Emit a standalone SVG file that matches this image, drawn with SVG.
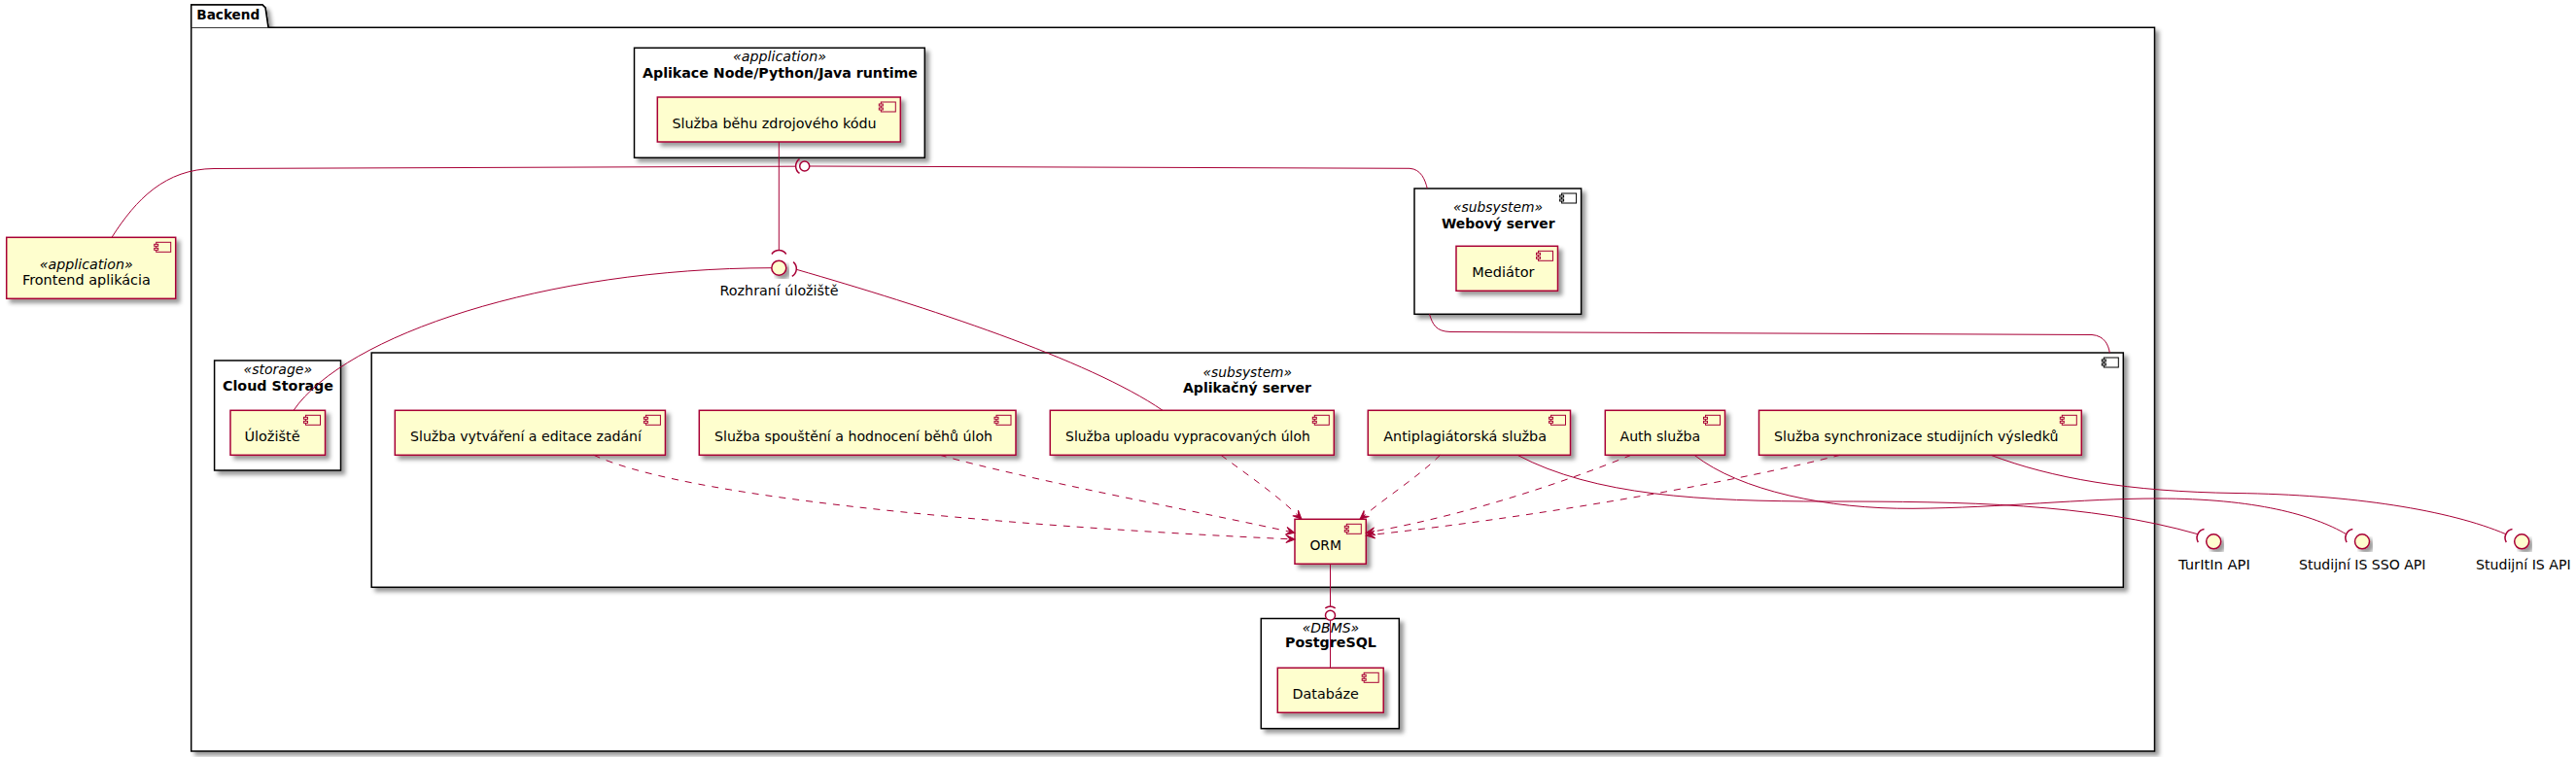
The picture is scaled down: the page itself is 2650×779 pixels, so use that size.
<svg xmlns="http://www.w3.org/2000/svg" width="2650" height="779" viewBox="0 0 2650 779">
<style>
text{font-family:"DejaVu Sans","Liberation Sans",sans-serif;font-size:14px;fill:#000}
.b{font-weight:bold}
.i{font-style:italic}
.m{text-anchor:middle}
.cmp{fill:#FEFECE;stroke:#A80036;stroke-width:1.5}
.cont{fill:#FFFFFF;stroke:#000;stroke-width:1.5}
.ico{fill:#FEFECE;stroke:#A80036;stroke-width:1}
.icok{fill:#FFFFFF;stroke:#000;stroke-width:1}
.ln{fill:none;stroke:#A80036;stroke-width:1}
.ds{fill:none;stroke:#A80036;stroke-width:1;stroke-dasharray:7,7}
.ifc{fill:#FEFECE;stroke:#A80036;stroke-width:1.5}
.lol{fill:#FFFFFF;stroke:#A80036;stroke-width:1.5}
.sk{fill:none;stroke:#A80036;stroke-width:1.5}
</style>
<defs>
<filter id="sh" x="-0.1" y="-0.1" width="1.3" height="1.3">
<feGaussianBlur in="SourceAlpha" stdDeviation="2" result="b"/>
<feColorMatrix in="b" type="matrix" values="0 0 0 0 0 0 0 0 0 0 0 0 0 0 0 0 0 0 0.4 0" result="c"/>
<feOffset in="c" dx="4" dy="4" result="o"/>
<feBlend in="SourceGraphic" in2="o" mode="normal"/>
</filter>
<marker id="ah" markerUnits="userSpaceOnUse" viewBox="-10 -5 11 10" markerWidth="11" markerHeight="10" refX="0" refY="0" orient="auto">
<path d="M0,0 L-9,-4 L-5,0 L-9,4 Z" fill="#A80036" stroke="#A80036" stroke-width="1"/>
</marker>
<g id="ci">
<rect x="-20" y="5" width="15" height="10"/>
<rect x="-22" y="7" width="4" height="2"/>
<rect x="-22" y="11" width="4" height="2"/>
</g>
</defs>
<rect width="2650" height="779" fill="#FFFFFF"/>

<g id="backend">
<path d="M196.7,28.3 V5 H270 L273,8 L276,28.3 Z" fill="#FFFFFF" stroke="#000" stroke-width="1.5" filter="url(#sh)"/>
<rect x="196.7" y="28.3" width="2019.8" height="744.7" fill="#FFFFFF" stroke="#000" stroke-width="1.5" filter="url(#sh)"/>
<path d="M196.7,28.3 V5 H270 L273,8 L276,28.3" fill="#FFFFFF" stroke="#000" stroke-width="1.5"/>
<text class="b" x="202.3" y="20" textLength="65" lengthAdjust="spacingAndGlyphs">Backend</text>
</g>

<g id="frontend">
<rect class="cmp" x="6.7" y="244.3" width="174" height="63" filter="url(#sh)"/>
<use href="#ci" class="ico" x="180.7" y="244.3"/>
<text class="i m" x="88.7" y="276.7" textLength="96" lengthAdjust="spacingAndGlyphs">«application»</text>
<text class="m" x="88.9" y="293.3" textLength="132" lengthAdjust="spacingAndGlyphs">Frontend aplikácia</text>
</g>

<g id="runtime">
<rect class="cont" x="652.5" y="49.3" width="298.8" height="113" filter="url(#sh)"/>
<text class="i m" x="802" y="63.3" textLength="96" lengthAdjust="spacingAndGlyphs">«application»</text>
<text class="b m" x="802.5" y="80" textLength="283" lengthAdjust="spacingAndGlyphs">Aplikace Node/Python/Java runtime</text>
</g>
<g id="sluzba-behu">
<rect class="cmp" x="676.3" y="100" width="250" height="46" filter="url(#sh)"/>
<use href="#ci" class="ico" x="926.3" y="100"/>
<text class="m" x="796.5" y="132" textLength="210" lengthAdjust="spacingAndGlyphs">Služba běhu zdrojového kódu</text>
</g>

<g id="webovy-server">
<rect class="cont" x="1455" y="194" width="171.6" height="129.3" filter="url(#sh)"/>
<use href="#ci" class="icok" x="1626.6" y="194"/>
<text class="i m" x="1541" y="218.3" textLength="92" lengthAdjust="spacingAndGlyphs">«subsystem»</text>
<text class="b m" x="1541.3" y="235" textLength="116.6" lengthAdjust="spacingAndGlyphs">Webový server</text>
</g>
<g id="mediator">
<rect class="cmp" x="1498" y="253.3" width="104.5" height="46" filter="url(#sh)"/>
<use href="#ci" class="ico" x="1602.5" y="253.3"/>
<text class="m" x="1546.4" y="285.3" textLength="64.2" lengthAdjust="spacingAndGlyphs">Mediátor</text>
</g>

<g id="cloud-storage">
<rect class="cont" x="220.6" y="371" width="129.9" height="113" filter="url(#sh)"/>
<text class="i m" x="285.8" y="385" textLength="70.5" lengthAdjust="spacingAndGlyphs">«storage»</text>
<text class="b m" x="286" y="401.7" textLength="114" lengthAdjust="spacingAndGlyphs">Cloud Storage</text>
</g>
<g id="uloziste">
<rect class="cmp" x="237" y="422.3" width="97.5" height="46" filter="url(#sh)"/>
<use href="#ci" class="ico" x="334.5" y="422.3"/>
<text class="m" x="280" y="454.3" textLength="57.2" lengthAdjust="spacingAndGlyphs">Úložiště</text>
</g>

<g id="aplikacny-server">
<rect class="cont" x="382.2" y="363" width="1802.1" height="241.3" filter="url(#sh)"/>
<use href="#ci" class="icok" x="2184.3" y="363"/>
<text class="i m" x="1283.3" y="388.3" textLength="91.5" lengthAdjust="spacingAndGlyphs">«subsystem»</text>
<text class="b m" x="1283" y="404" textLength="132" lengthAdjust="spacingAndGlyphs">Aplikačný server</text>
</g>
<g id="vytvareni">
<rect class="cmp" x="406.3" y="422.3" width="278.1" height="46" filter="url(#sh)"/>
<use href="#ci" class="ico" x="684.4" y="422.3"/>
<text class="m" x="541" y="454.3" textLength="237.9" lengthAdjust="spacingAndGlyphs">Služba vytváření a editace zadání</text>
</g>
<g id="spousteni">
<rect class="cmp" x="719.3" y="422.3" width="325.7" height="46" filter="url(#sh)"/>
<use href="#ci" class="ico" x="1045" y="422.3"/>
<text class="m" x="878" y="454.3" textLength="286" lengthAdjust="spacingAndGlyphs">Služba spouštění a hodnocení běhů úloh</text>
</g>
<g id="upload">
<rect class="cmp" x="1080.3" y="422.3" width="292" height="46" filter="url(#sh)"/>
<use href="#ci" class="ico" x="1372.3" y="422.3"/>
<text class="m" x="1221.9" y="454.3" textLength="251.7" lengthAdjust="spacingAndGlyphs">Služba uploadu vypracovaných úloh</text>
</g>
<g id="antiplag">
<rect class="cmp" x="1407.3" y="422.3" width="208.2" height="46" filter="url(#sh)"/>
<use href="#ci" class="ico" x="1615.5" y="422.3"/>
<text class="m" x="1507.1" y="454.3" textLength="167.8" lengthAdjust="spacingAndGlyphs">Antiplagiátorská služba</text>
</g>
<g id="auth">
<rect class="cmp" x="1651.3" y="422.3" width="123.2" height="46" filter="url(#sh)"/>
<use href="#ci" class="ico" x="1774.5" y="422.3"/>
<text class="m" x="1707.8" y="454.3" textLength="82.6" lengthAdjust="spacingAndGlyphs">Auth služba</text>
</g>
<g id="sync">
<rect class="cmp" x="1809.5" y="422.3" width="331.8" height="46" filter="url(#sh)"/>
<use href="#ci" class="ico" x="2141.3" y="422.3"/>
<text class="m" x="1971.2" y="454.3" textLength="292.4" lengthAdjust="spacingAndGlyphs">Služba synchronizace studijních výsledků</text>
</g>
<g id="orm">
<rect class="cmp" x="1332" y="534.3" width="73.3" height="46" filter="url(#sh)"/>
<use href="#ci" class="ico" x="1405.3" y="534.3"/>
<text class="m" x="1363.7" y="566.3" textLength="32.6" lengthAdjust="spacingAndGlyphs">ORM</text>
</g>

<g id="postgresql">
<rect class="cont" x="1297.3" y="636.5" width="142" height="113.2" filter="url(#sh)"/>
<text class="i m" x="1369" y="650.7" textLength="58.5" lengthAdjust="spacingAndGlyphs">«DBMS»</text>
<text class="b m" x="1369" y="666.3" textLength="93.8" lengthAdjust="spacingAndGlyphs">PostgreSQL</text>
</g>
<g id="databaze">
<rect class="cmp" x="1314.3" y="687.3" width="108.9" height="46" filter="url(#sh)"/>
<use href="#ci" class="ico" x="1423.2" y="687.3"/>
<text class="m" x="1363.7" y="719.3" textLength="68.3" lengthAdjust="spacingAndGlyphs">Databáze</text>
</g>

<g id="connectors">
<path class="ln" d="M115,244.3 C140,205 170,174 220,173.5 L818.3,171.2"/>
<path class="ln" d="M832.7,171 L1450,173.3 C1462,174 1466,185 1468.3,194"/>
<path class="ln" d="M1470.5,323.3 C1474,334 1477,341 1492,341.5 L2152,344.5 C2165,345.5 2169,355 2170.3,363"/>
<path class="ln" d="M801.3,146 L801.3,257.7"/>
<path class="ln" d="M302,422.3 C355,345 560,276 793.8,275.7"/>
<path class="ln" d="M819.3,277.3 C950,315 1120,370 1196,422.3"/>
<path class="ln" d="M1368.5,580.3 L1368.5,624.3"/>
<path class="ln" d="M1368.5,638.3 L1368.5,687.3"/>
<path class="ln" d="M1561,468.3 C1640,510 1750,516 1880,516 C2020,516 2150,518 2260.9,549.7"/>
<path class="ln" d="M1743,468.3 C1790,505 1880,524 1968,523.3 C2060,522.5 2140,513 2220,513 C2320,513 2380,530 2413.7,549.7"/>
<path class="ln" d="M2048,468.3 C2110,492 2190,506 2300,507.5 C2420,509 2520,525 2577.9,549.7"/>
<path class="ds" marker-end="url(#ah)" d="M610.8,468.3 C700,510 1000,540 1332,555"/>
<path class="ds" marker-end="url(#ah)" d="M967,468.3 C1050,492 1240,528 1332,548.3"/>
<path class="ds" marker-end="url(#ah)" d="M1256,468.3 C1285,490 1315,510 1339,534.3"/>
<path class="ds" marker-end="url(#ah)" d="M1481.5,468.3 C1460,490 1425,512 1399,534.3"/>
<path class="ds" marker-end="url(#ah)" d="M1678,468.3 C1600,500 1500,532 1405.3,548.3"/>
<path class="ds" marker-end="url(#ah)" d="M1893,468.3 C1800,492 1600,530 1405.3,551"/>
<path class="sk" d="M822.5,163.6 A9,9 0 0 0 822.5,178.4"/>
<circle class="lol" cx="827.7" cy="171" r="5"/>
<path class="sk" d="M793.9,261.5 A9,9 0 0 1 808.7,261.5"/>
<path class="sk" d="M816.1,269.6 A9,9 0 0 1 814.8,284.3"/>
<path class="sk" d="M1363.3,625.9 A9,9 0 0 1 1373.7,625.9"/>
<circle class="lol" cx="1368.5" cy="633.3" r="5"/>
<path class="sk" d="M2267.5,544.6 A9,9 0 0 0 2261.3,558"/>
<path class="sk" d="M2420.3,544.6 A9,9 0 0 0 2414.1,558"/>
<path class="sk" d="M2584.5,544.6 A9,9 0 0 0 2578.3,558"/>
</g>

<g id="rozhrani-uloziste">
<circle class="ifc" cx="801.3" cy="275.7" r="7.5" filter="url(#sh)"/>
<text class="m" x="801.5" y="304.3" textLength="121.9" lengthAdjust="spacingAndGlyphs">Rozhraní úložiště</text>
</g>
<g id="turitin-api">
<circle class="ifc" cx="2277.2" cy="557.3" r="7.5" filter="url(#sh)"/>
<text class="m" x="2277.9" y="586.3" textLength="73.7" lengthAdjust="spacingAndGlyphs">TurItIn API</text>
</g>
<g id="sso-api">
<circle class="ifc" cx="2430" cy="557.3" r="7.5" filter="url(#sh)"/>
<text class="m" x="2430.2" y="586.3" textLength="130.4" lengthAdjust="spacingAndGlyphs">Studijní IS SSO API</text>
</g>
<g id="is-api">
<circle class="ifc" cx="2594.2" cy="557.3" r="7.5" filter="url(#sh)"/>
<text class="m" x="2595.8" y="586.3" textLength="97.6" lengthAdjust="spacingAndGlyphs">Studijní IS API</text>
</g>
</svg>
